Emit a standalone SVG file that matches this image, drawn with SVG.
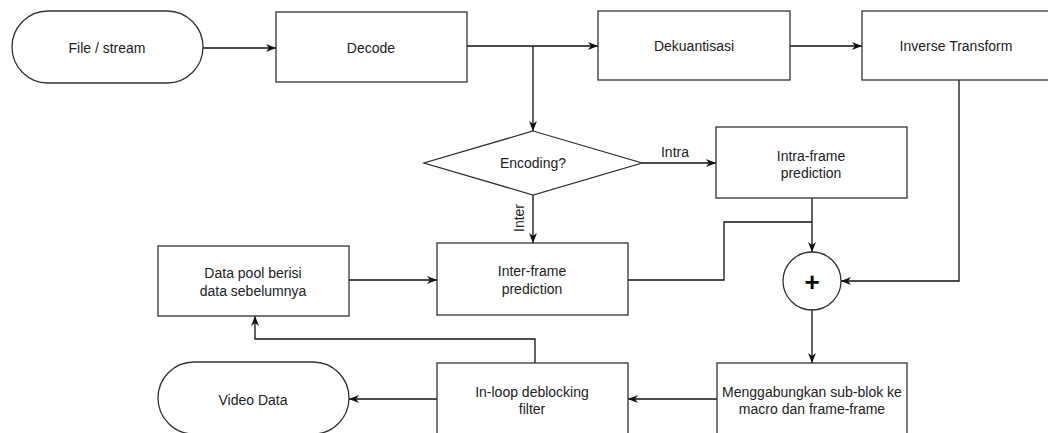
<svg xmlns="http://www.w3.org/2000/svg" width="1048" height="433" viewBox="0 0 1048 433">
<style>
.shape{fill:#fff;stroke:#333;stroke-width:1.3}
.lbl{font-family:"Liberation Sans",Arial,sans-serif;font-size:14px;fill:#222;text-anchor:middle;dominant-baseline:central}
.conn{fill:none;stroke:#111;stroke-width:1.3}
</style>
<defs>
<marker id="arr" viewBox="0 0 10 10" refX="10" refY="5" markerWidth="10" markerHeight="10" markerUnits="userSpaceOnUse" orient="auto">
<path d="M0,1 L10,5 L0,9 L3,5 z" fill="#111"/>
</marker>
</defs>
<rect width="1048" height="433" fill="#fff"/>
<g id="connectors">
<path class="conn" d="M203,48 H276" marker-end="url(#arr)"/>
<path class="conn" d="M467,46 H598" marker-end="url(#arr)"/>
<path class="conn" d="M533,46 V131" marker-end="url(#arr)"/>
<path class="conn" d="M790,46 H862" marker-end="url(#arr)"/>
<path class="conn" d="M642,163 H716" marker-end="url(#arr)"/>
<path class="conn" d="M533,195 V243" marker-end="url(#arr)"/>
<path class="conn" d="M349,280 H437" marker-end="url(#arr)"/>
<path class="conn" d="M812,198 V252" marker-end="url(#arr)"/>
<path class="conn" d="M628,280 H724 V222 H812"/>
<path class="conn" d="M959,80 V281 H841" marker-end="url(#arr)"/>
<path class="conn" d="M812,310 V363" marker-end="url(#arr)"/>
<path class="conn" d="M717,399 H628" marker-end="url(#arr)"/>
<path class="conn" d="M437,399 H349" marker-end="url(#arr)"/>
<path class="conn" d="M535,363 V339 H255 V316" marker-end="url(#arr)"/>
<text class="lbl" x="675" y="152">Intra</text>
<text class="lbl" transform="translate(519,218) rotate(-90)">Inter</text>
</g>
<g id="file-stream">
<rect class="shape" x="12" y="11" width="191" height="72" rx="36" ry="36"/>
<text class="lbl" x="107" y="48">File / stream</text>
</g>
<g id="decode">
<rect class="shape" x="276" y="12" width="191" height="70"/>
<text class="lbl" x="371" y="48">Decode</text>
</g>
<g id="dekuantisasi">
<rect class="shape" x="598" y="11" width="192" height="69"/>
<text class="lbl" x="694" y="46">Dekuantisasi</text>
</g>
<g id="inverse-transform">
<rect class="shape" x="862" y="11" width="192" height="69"/>
<text class="lbl" x="956" y="46">Inverse Transform</text>
</g>
<g id="encoding">
<polygon class="shape" points="533,131 642,163 533,195 424,163"/>
<text class="lbl" x="533" y="163">Encoding?</text>
</g>
<g id="intra-frame">
<rect class="shape" x="716" y="127" width="191" height="71"/>
<text class="lbl" x="811" y="156">Intra-frame</text>
<text class="lbl" x="811" y="173">prediction</text>
</g>
<g id="inter-frame">
<rect class="shape" x="437" y="243" width="191" height="72"/>
<text class="lbl" x="532" y="271">Inter-frame</text>
<text class="lbl" x="532" y="289">prediction</text>
</g>
<g id="data-pool">
<rect class="shape" x="158" y="246" width="191" height="70"/>
<text class="lbl" x="253" y="273">Data pool berisi</text>
<text class="lbl" x="253" y="291">data sebelumnya</text>
</g>
<g id="sum">
<circle class="shape" cx="812" cy="281" r="29"/>
<text x="812" y="282" font-family="'Liberation Sans',Arial,sans-serif" font-size="26" font-weight="bold" fill="#000" text-anchor="middle" dominant-baseline="central">+</text>
</g>
<g id="menggabungkan">
<rect class="shape" x="717" y="363" width="190" height="72"/>
<text class="lbl" x="812" y="392">Menggabungkan sub-blok ke</text>
<text class="lbl" x="812" y="409">macro dan frame-frame</text>
</g>
<g id="in-loop">
<rect class="shape" x="437" y="363" width="191" height="72"/>
<text class="lbl" x="532" y="392">In-loop deblocking</text>
<text class="lbl" x="532" y="409">filter</text>
</g>
<g id="video-data">
<rect class="shape" x="158" y="362" width="191" height="72" rx="36" ry="36"/>
<text class="lbl" x="253" y="400">Video Data</text>
</g>
</svg>
